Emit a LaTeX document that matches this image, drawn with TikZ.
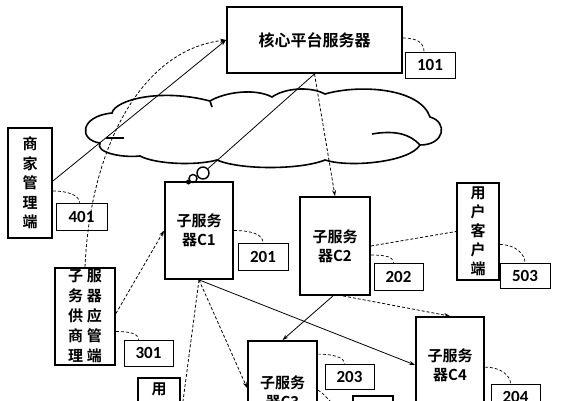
\documentclass[tikz,border=0pt]{standalone}
\usepackage{fontspec}
\newfontfamily\cjk{Noto Sans CJK SC}[BoldFont={Noto Sans CJK SC Bold}]
\newfontfamily\numf{Carlito}
\usetikzlibrary{arrows.meta}
\begin{document}
\begin{tikzpicture}[x=1pt,y=-1pt,
 mainbox/.style={draw, line width=1.8pt, inner sep=0pt, align=center, font=\cjk\bfseries\fontsize{15}{19}\selectfont},
 cjktext/.style={inner sep=0pt, font=\cjk\bfseries\fontsize{15}{19}\selectfont},
 lbl/.style={draw, line width=0.7pt, inner sep=0pt, font=\numf\bfseries\fontsize{17}{17}\selectfont},
 conn/.style={line width=0.8pt},
 dconn/.style={line width=0.8pt, densely dashed},
 lead/.style={line width=0.7pt, densely dashed},
 tip/.style={-{Stealth[length=6pt,width=4pt]}},
 cloudline/.style={line width=1.6pt},
]
\clip (0,0) rectangle (562,400);
\fill[white] (0,0) rectangle (562,400);

% cloud
\draw[cloudline] (100,143)
  .. controls (78,140) and (80,116) .. (112,113)
  .. controls (115,100) and (160,88) .. (210,101)
  .. controls (225,92) and (255,88) .. (272,97)
  .. controls (285,88) and (310,86) .. (325,94)
  .. controls (360,84) and (420,88) .. (430,117)
  .. controls (448,122) and (445,145) .. (420,145)
  .. controls (410,162) and (350,168) .. (325,160)
  .. controls (300,170) and (240,170) .. (217,160)
  .. controls (195,166) and (155,164) .. (140,156)
  .. controls (120,158) and (95,152) .. (100,143) -- cycle;
\draw[cloudline] (210,101) -- (212,107);
\draw[cloudline] (420,145) .. controls (410,134) and (395,130) .. (372,134);
\draw[cloudline] (106,138) -- (124,138);

% main boxes
\node[mainbox, minimum width=175pt, minimum height=66pt, font=\cjk\bfseries\fontsize{16}{20}\selectfont] (core) at (314.5,40) {核心平台服务器};
\node[mainbox, minimum width=44pt, minimum height=110pt, font=\cjk\bfseries\fontsize{15}{19.5}\selectfont] (merchant) at (30,183) {商\\家\\管\\理\\端};
\node[mainbox, minimum width=68pt, minimum height=97pt] (c1) at (199,230.5) {子服务\\器C1};
\node[mainbox, minimum width=70pt, minimum height=98pt] (c2) at (335,246) {子服务\\器C2};
\node[mainbox, minimum width=42pt, minimum height=97pt] (user) at (478,231.5) {用\\户\\客\\户\\端};
\node[mainbox, minimum width=60pt, minimum height=97pt, font=\cjk\bfseries\fontsize{15}{20}\selectfont] (supply) at (85,316.5) {子\hspace{4pt}服\\务\hspace{4pt}器\\供\hspace{4pt}应\\商\hspace{4pt}管\\理\hspace{4pt}端};
\node[mainbox, minimum width=69pt, minimum height=102pt] (c3) at (282.5,392) {子服务\\器C3};
\node[mainbox, minimum width=68pt, minimum height=96pt] (c4) at (450,365) {子服务\\器C4};
\node[mainbox, minimum width=42pt, minimum height=60pt, anchor=north] (usera) at (159,377) {};
\node[cjktext] (usera text) at ([yshift=-12pt]usera.north) {用};
\node[mainbox, minimum width=40pt, minimum height=60pt, anchor=north] (userb) at (373,395) {};

% labels
\node[lbl, minimum width=50pt, minimum height=26pt] (l101) at (430,65) {101};
\node[lbl, minimum width=51pt, minimum height=27pt] (l401) at (81.5,216.5) {401};
\node[lbl, minimum width=50pt, minimum height=27pt] (l201) at (263,256.5) {201};
\node[lbl, minimum width=49pt, minimum height=27pt] (l202) at (398.5,276.5) {202};
\node[lbl, minimum width=50pt, minimum height=25pt] (l503) at (525,275.5) {503};
\node[lbl, minimum width=49pt, minimum height=26pt] (l301) at (148.5,353) {301};
\node[lbl, minimum width=49pt, minimum height=25pt] (l203) at (349.5,376.5) {203};
\node[lbl, minimum width=49pt, minimum height=26pt] (l204) at (515.5,397) {204};

% thought bubble
\node[draw, circle, line width=1.4pt, minimum size=12pt, inner sep=0pt] (ba) at (203,173) {};
\node[draw, circle, line width=1.4pt, minimum size=8pt, inner sep=0pt] (bb) at (193,178.5) {};
\node[fill, circle, minimum size=5pt, inner sep=0pt] (bc) at (188.5,182) {};

% connectors
\draw[conn, tip] ([yshift=2pt]merchant.east) -- (core.west);
\draw[dconn, tip] (supply.north) .. controls (90,150) and (140,50) .. (core.west);
\draw[conn] (core.south) -- (ba);
\draw[dconn, tip] (core.south) -- (c2.north);
\draw[dconn, tip] ([yshift=3pt]supply.east) -- (c1.west);
\coordinate (cut1) at (180.5,420);
\draw[dconn] (c1.south) -- (cut1);
\draw[dconn, tip] (c1.south) -- ([yshift=4pt]c3.west);
\draw[conn, tip] (c1.south) -- (c4.west);
\draw[conn, tip] ([xshift=-2pt]c2.south) -- (c3.north);
\draw[dconn, tip] ([xshift=8pt]c2.south) -- (c4.north);
\draw[dconn] (c2.east) -- (user.west);

% leaders
\draw[lead] ([yshift=2pt]core.east) .. controls +(14,0) and +(0,-9) .. ([xshift=-6pt]l101.north);
\draw[lead] ([yshift=-8pt]merchant.east) .. controls +(16,0) and +(0,-7) .. ([xshift=-2pt]l401.north);
\draw[lead] (c1.east) .. controls +(18,0) and +(0,-8) .. (l201.north);
\draw[lead] ([yshift=-9pt]c2.east) .. controls +(14,0) and +(0,-6) .. ([xshift=-5pt]l202.north);
\draw[lead] ([yshift=-13pt]user.east) .. controls +(16,0) and +(0,-8) .. (l503.north);
\draw[lead] ([yshift=-15pt]supply.east) .. controls +(14,0) and +(0,-6) .. ([xshift=-10pt]l301.north);
\draw[lead] ([yshift=-14pt]c3.north east) .. controls +(16,0) and +(0,-6) .. ([xshift=-5pt]l203.north);
\draw[lead] ([yshift=-51pt]c4.north east) .. controls +(16,0) and +(0,-8) .. ([xshift=-5pt]l204.north);
\draw[lead] ([yshift=-50pt]c3.north east) .. controls +(8,4) and +(-10,-10) .. (userb.west);
\end{tikzpicture}
\end{document}
